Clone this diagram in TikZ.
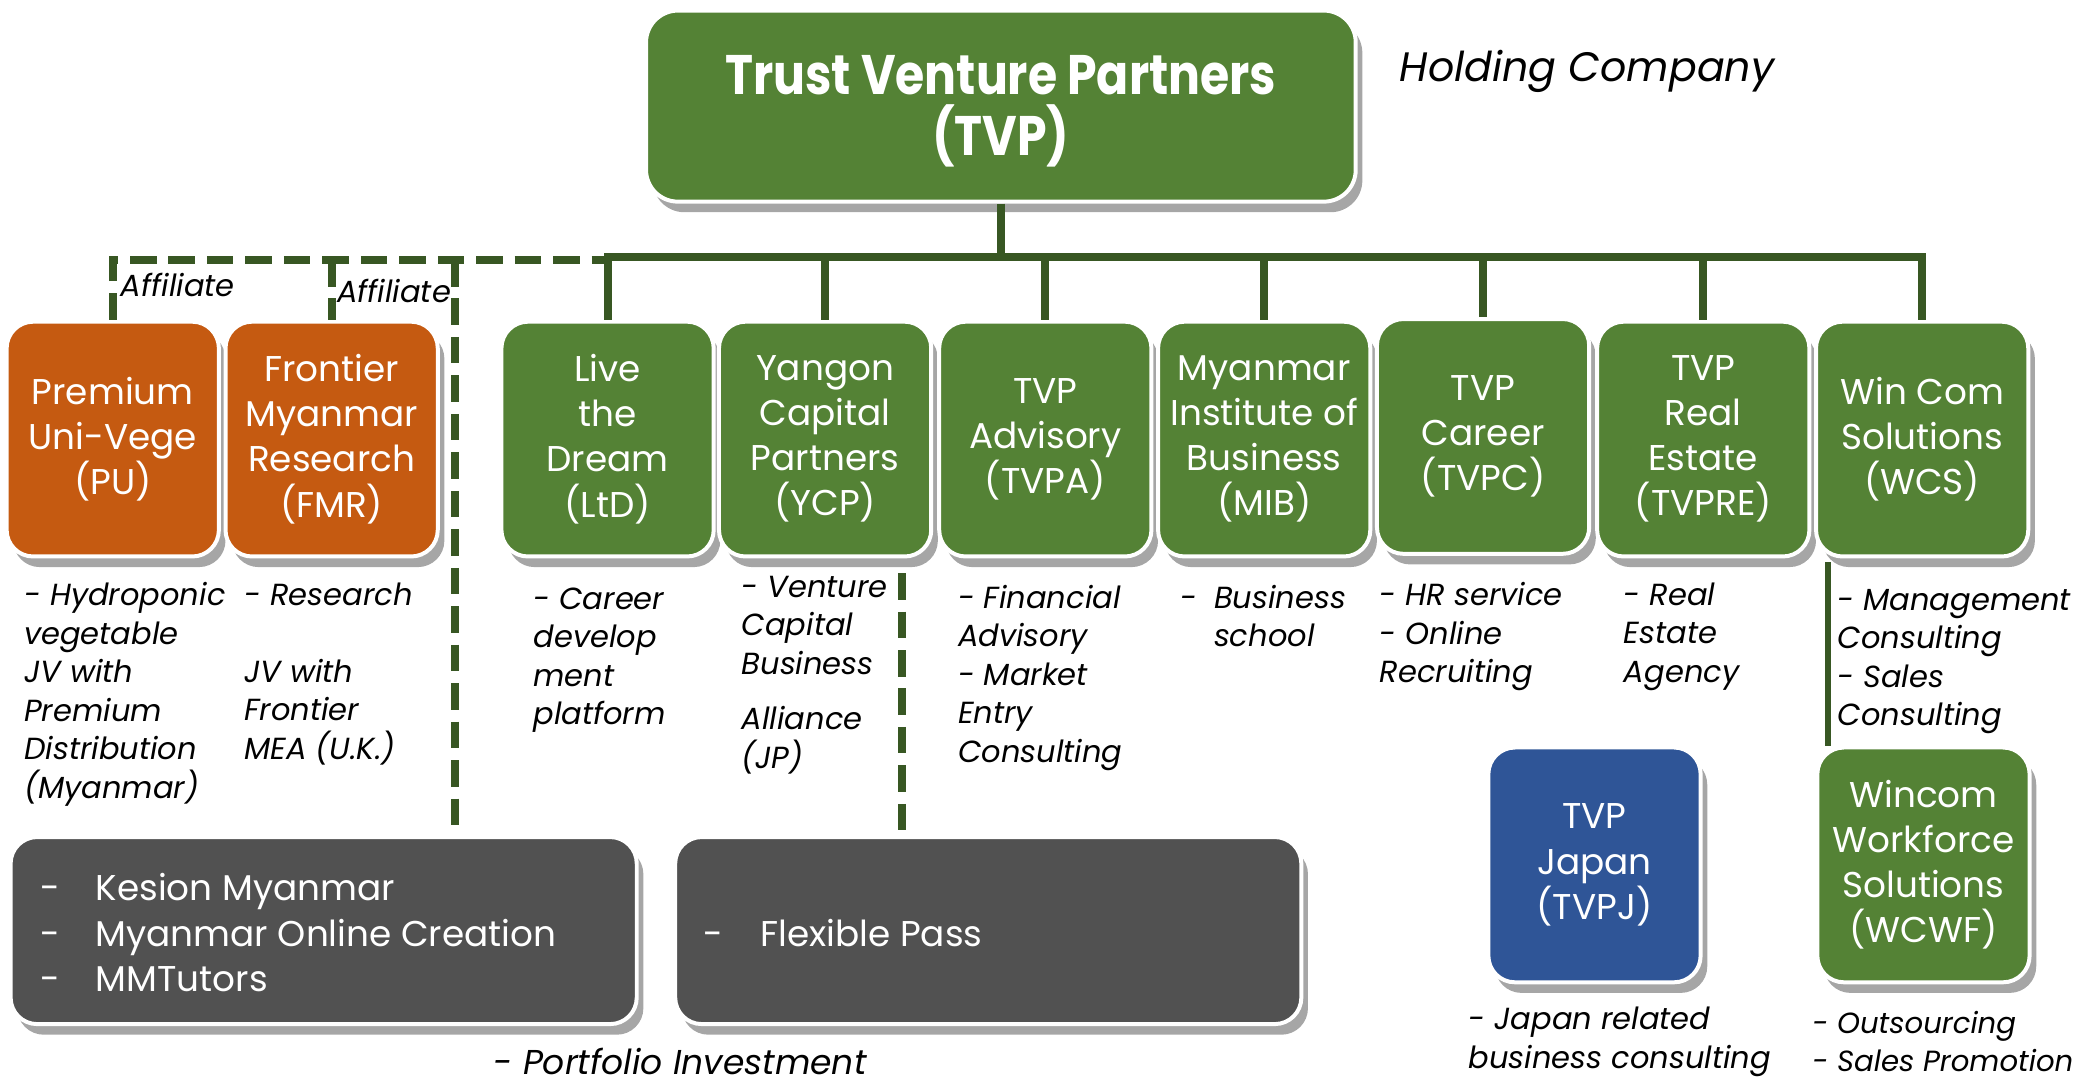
\documentclass[tikz,border=0pt]{standalone}
\usepackage{fontspec}
\setmainfont{Poppins}
\newfontfamily\titlefont{Poppins}[FakeStretch=0.85]
\usetikzlibrary{shadows}
\definecolor{tvgreen}{HTML}{548235}
\definecolor{tvorange}{HTML}{C55A11}
\definecolor{tvblue}{HTML}{2F5597}
\definecolor{tvgray}{HTML}{515151}
\definecolor{tvline}{HTML}{385723}
\begin{document}
\begin{tikzpicture}[x=1pt,y=-1pt,
  boxbase/.style={draw=white, line width=3pt, rounded corners=20pt, text=white, align=center,
    inner sep=2pt, drop shadow={shadow xshift=5pt, shadow yshift=-8pt, fill=black, opacity=0.35}},
  unit/.style={boxbase, minimum width=160pt, minimum height=177pt, font=\fontsize{27}{34}\selectfont},
  pfbox/.style={boxbase, fill=tvgray, minimum width=472pt, minimum height=141pt},
  desc/.style={anchor=north west, align=left, inner sep=0pt, font=\itshape\fontsize{23}{29}\selectfont},
  pftext/.style={anchor=west, align=left, inner sep=0pt, text=white, font=\fontsize{27}{34}\selectfont},
  conn/.style={draw=tvline, line width=6pt},
  dconn/.style={draw=tvline, line width=6pt, dash pattern=on 20pt off 9pt},
  afflabel/.style={anchor=west, inner sep=0pt, font=\itshape\fontsize{23}{26}\selectfont}
]
\useasboundingbox (0,0) rectangle (1568,816);

% holding
\node[boxbase, fill=tvgreen, rounded corners=24pt, minimum width=535pt, minimum height=144pt] (tvp) at (754.5,80) {};
\node[align=center, inner sep=0pt, text=white, font=\titlefont\bfseries\fontsize{42}{46}\selectfont] (tvpt) at (754.5,84) {Trust Venture Partners\\(TVP)};
\node[anchor=west, inner sep=0pt, font=\itshape\fontsize{31}{36}\selectfont] (holding) at (1055,54) {Holding Company};

% units
\node[unit, fill=tvorange] (pu) at (85,331) {Premium\\Uni-Vege\\(PU)};
\node[unit, fill=tvorange] (fmr) at (250,331) {Frontier\\Myanmar\\Research\\(FMR)};
\node[unit, fill=tvgreen] (ltd) at (458,331) {Live\\the\\Dream\\(LtD)};
\node[unit, fill=tvgreen] (ycp) at (622,331) {Yangon\\Capital\\Partners\\(YCP)};
\node[unit, fill=tvgreen] (tvpa) at (788,331) {TVP\\Advisory\\(TVPA)};
\node[unit, fill=tvgreen] (mib) at (953,331) {Myanmar\\Institute of\\Business\\(MIB)};
\node[unit, fill=tvgreen] (tvpc) at (1118,329) {TVP\\Career\\(TVPC)};
\node[unit, fill=tvgreen] (tvpre) at (1284,331) {TVP\\Real\\Estate\\(TVPRE)};
\node[unit, fill=tvgreen] (wcs) at (1449,331) {Win Com\\Solutions\\(WCS)};

\node[unit, fill=tvblue] (tvpj) at (1202,652) {TVP\\Japan\\(TVPJ)};
\node[unit, fill=tvgreen] (wcwf) at (1450,652) {Wincom\\Workforce\\Solutions\\(WCWF)};

% portfolio boxes
\node[pfbox] (pf1) at (244,701.5) {};
\node[pfbox] (pf2) at (745,701.5) {};
\node[pftext] (pf1t) at (30,703) {\makebox[42pt][l]{-}Kesion Myanmar\\\makebox[42pt][l]{-}Myanmar Online Creation\\\makebox[42pt][l]{-}MMTutors};
\node[pftext] (pf2t) at (530,703) {\makebox[43pt][l]{-}Flexible Pass};
\node[anchor=west, inner sep=0pt, font=\itshape\fontsize{26}{30}\selectfont] (portfolio) at (372,800) {- Portfolio Investment};

% connectors
\coordinate (bus) at (0,194);
\coordinate (dbus) at (0,196);
\draw[conn] (tvp.south) -- (tvp.south |- bus);
\draw[conn] (ltd.north) -- (ltd.north |- bus) -- (wcs.north |- bus) -- (wcs.north);
\foreach \n in {ycp,tvpa,mib,tvpc,tvpre} \draw[conn] (\n.north |- bus) -- (\n.north);
\draw[dconn] (pu.north) -- (pu.north |- dbus) -- (ltd.north |- dbus);
\draw[dconn] (fmr.north |- dbus) -- (fmr.north);
\coordinate (dv1) at (343,196);
\draw[dconn] (dv1) -- (dv1 |- pf1.north);
\coordinate (dv2) at (680,432);
\draw[dconn] (dv2) -- (dv2 |- pf2.north);
\coordinate (wv) at (1378,424);
\draw[conn, line width=5pt] (wv) -- (wv |- wcwf.north);

\node[afflabel] (aff1) at (91,215) {Affiliate};
\node[afflabel] (aff2) at (254,219) {Affiliate};

% descriptions
\node[desc] (pud) at (18,439) {- Hydroponic\\vegetable\\JV with\\Premium\\Distribution\\(Myanmar)};
\node[desc] (fmrd) at (184,439) {- Research\\[29pt]JV with\\Frontier\\MEA (U.K.)};
\node[desc] (ltdd) at (402,443) {- Career\\develop\\ment\\platform};
\node[desc] (ycpd) at (559,434) {- Venture\\Capital\\Business\\[13pt]Alliance\\(JP)};
\node[desc] (tvpad) at (722,441) {- Financial\\Advisory\\- Market\\Entry\\Consulting};
\node[desc] (mibd) at (890,441) {\makebox[25pt][l]{-}Business\\\hspace*{25pt}school};
\node[desc] (tvpcd) at (1040,439) {- HR service\\- Online\\Recruiting};
\node[desc] (tvpred) at (1224,439) {- Real\\Estate\\Agency};
\node[desc] (wcsd) at (1385,444) {- Management\\Consulting\\- Sales\\Consulting};
\node[desc] (tvpjd) at (1107,759) {- Japan related\\business consulting};
\node[desc, font=\itshape\fontsize{22}{29}\selectfont] (wcwfd) at (1366,762) {- Outsourcing\\- Sales Promotion};
\end{tikzpicture}
\end{document}
